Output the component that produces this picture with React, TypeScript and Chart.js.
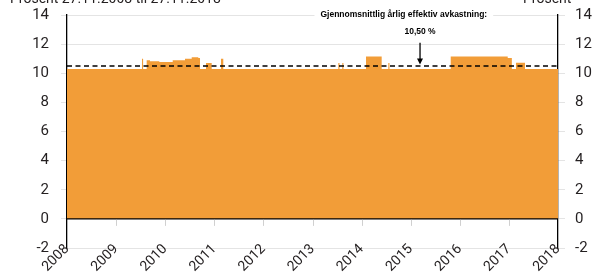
import React, { useEffect, useRef } from "react";
import { Chart, registerables } from "chart.js";

Chart.register(...registerables);

// Step series: start year of each step and the return value held from there on
const stepYears = [
  2008.0, 2009.527, 2009.55, 2009.623, 2009.69, 2009.88, 2010.153, 2010.403, 2010.54, 2010.674,
  2010.709, 2010.831, 2010.947, 2011.136, 2011.183, 2013.526, 2013.55, 2013.607, 2013.63, 2014.09,
  2014.409, 2014.544, 2014.568, 2015.815, 2016.976, 2017.06, 2017.145, 2017.328, 2018.0,
];
const stepReturns = [
  10.3, 11.0, 10.3, 10.9, 10.83, 10.78, 10.9, 11.0, 11.1, 11.05,
  10.3, 10.7, 10.3, 11.0, 10.3, 10.7, 10.3, 10.7, 10.3, 11.15,
  10.3, 10.7, 10.3, 11.15, 11.05, 10.3, 10.72, 10.3, 10.3,
];
const averageReturn = 10.5;
const yearLabels = [2008, 2009, 2010, 2011, 2012, 2013, 2014, 2015, 2016, 2017, 2018];
const leftTitle = "Prosent 27.11.2008 til 27.11.2018";
const rightTitle = "Prosent";
const annotationHeader = "Gjennomsnittlig årlig effektiv avkastning:";
const annotationValue = "10,50 %";
const annotationYear = 2015.19;
const annotationHeaderYear = 2014.86;

const ORANGE = "#F29D38";
const GRID = "#e4e4e4";
const TEXT = "#231f20";
const FONT = "Roboto, 'DejaVu Sans', sans-serif";

const overlayPlugin = {
  id: "overlay",
  afterDraw(chart: any) {
    const { ctx, chartArea, scales } = chart;
    const xs = scales.x;
    const ys = scales.y;
    const y0 = ys.getPixelForValue(0);
    ctx.save();

    // zero line
    ctx.strokeStyle = "#000";
    ctx.lineWidth = 1.3;
    ctx.beginPath();
    ctx.moveTo(chartArea.left, y0);
    ctx.lineTo(chartArea.right, y0);
    ctx.stroke();

    // year ticks under zero line
    ctx.strokeStyle = "#d0d0d0";
    ctx.lineWidth = 1;
    yearLabels.forEach((yr) => {
      const x = Math.round(xs.getPixelForValue(yr)) + 0.5;
      if (yr === 2008 || yr === 2018) return;
      ctx.beginPath();
      ctx.moveTo(x, y0 + 1);
      ctx.lineTo(x, y0 + 7);
      ctx.stroke();
    });

    // rotated year labels
    ctx.fillStyle = TEXT;
    ctx.font = `14px ${FONT}`;
    ctx.textAlign = "right";
    ctx.textBaseline = "middle";
    yearLabels.forEach((yr) => {
      const x = xs.getPixelForValue(yr);
      ctx.save();
      ctx.translate(x, chartArea.bottom - 1);
      ctx.rotate(-Math.PI / 4);
      ctx.fillText(String(yr), 0, 0);
      ctx.restore();
    });

    // titles
    ctx.textBaseline = "alphabetic";
    ctx.textAlign = "left";
    ctx.font = `14px ${FONT}`;
    ctx.fillText(leftTitle, 10, 3);
    ctx.fillText(rightTitle, 523, 3);

    // annotation
    const ax = xs.getPixelForValue(annotationYear);
    const hx = xs.getPixelForValue(annotationHeaderYear);
    ctx.font = `bold 8.5px 'Liberation Sans', Arial, sans-serif`;
    ctx.textAlign = "center";
    ctx.textBaseline = "middle";
    const hy = ys.getPixelForValue(14) - 0.5;
    const w = ctx.measureText(annotationHeader).width;
    ctx.fillStyle = "#fff";
    ctx.fillRect(hx - w / 2 - 6, hy - 6, w + 12, 12);
    ctx.fillStyle = "#000";
    ctx.fillText(annotationHeader, hx, hy);
    ctx.fillText(annotationValue, ax, ys.getPixelForValue(12.85));

    const yTop = ys.getPixelForValue(12.1);
    const yTip = ys.getPixelForValue(averageReturn) - 1.5;
    ctx.strokeStyle = "#000";
    ctx.lineWidth = 1.3;
    ctx.beginPath();
    ctx.moveTo(ax, yTop);
    ctx.lineTo(ax, yTip - 4);
    ctx.stroke();
    ctx.beginPath();
    ctx.moveTo(ax, yTip);
    ctx.lineTo(ax - 3, yTip - 6);
    ctx.lineTo(ax + 3, yTip - 6);
    ctx.closePath();
    ctx.fillStyle = "#000";
    ctx.fill();

    ctx.restore();
  },
};

export default function App() {
  const ref = useRef<HTMLCanvasElement | null>(null);

  useEffect(() => {
    if (!ref.current) return;
    const areaData = stepYears.map((x, i) => ({ x, y: stepReturns[i] }));
    const avgData = [
      { x: yearLabels[0], y: averageReturn },
      { x: yearLabels[yearLabels.length - 1], y: averageReturn },
    ];
    const yAxisCommon = {
      min: -2,
      max: 14,
      ticks: { stepSize: 2, color: TEXT, font: { family: FONT, size: 15 } },
    };
    const chart = new Chart(ref.current, {
      type: "line",
      data: {
        datasets: [
          {
            data: avgData,
            borderColor: "#000",
            borderWidth: 1.5,
            borderDash: [5, 3.5],
            pointRadius: 0,
            fill: false,
            order: 0,
          },
          {
            data: areaData,
            stepped: "before",
            borderWidth: 0,
            borderColor: ORANGE,
            backgroundColor: ORANGE,
            pointRadius: 0,
            fill: "origin",
            order: 1,
          },
        ],
      },
      options: {
        animation: false,
        responsive: false,
        maintainAspectRatio: false,
        layout: { padding: { top: 15, bottom: 27, left: 0, right: 0 } },
        plugins: { legend: { display: false }, tooltip: { enabled: false } },
        scales: {
          x: { type: "linear", min: 2008, max: 2018, display: false },
          y: {
            ...yAxisCommon,
            position: "left",
            ticks: { ...yAxisCommon.ticks, padding: 12 },
            grid: { color: GRID, tickLength: 6, lineWidth: 1 },
            border: { display: true, color: "#000", width: 1.3 },
            afterFit: (s: any) => {
              s.width = 67;
              s.paddingTop = 0;
              s.paddingBottom = 0;
            },
          },
          y2: {
            ...yAxisCommon,
            position: "right",
            ticks: { ...yAxisCommon.ticks, padding: 10 },
            grid: { drawOnChartArea: false, color: GRID, tickLength: 7 },
            border: { display: true, color: "#000", width: 1.3 },
            afterFit: (s: any) => {
              s.width = 37;
              s.paddingTop = 0;
              s.paddingBottom = 0;
            },
          },
        },
      } as any,
      plugins: [overlayPlugin],
    });
    return () => chart.destroy();
  }, []);

  return (
    <div style={{ position: "fixed", left: 0, top: 0, width: 595, height: 275, background: "#fff" }}>
      <canvas ref={ref} width={595} height={275} style={{ width: 595, height: 275 }} />
    </div>
  );
}
